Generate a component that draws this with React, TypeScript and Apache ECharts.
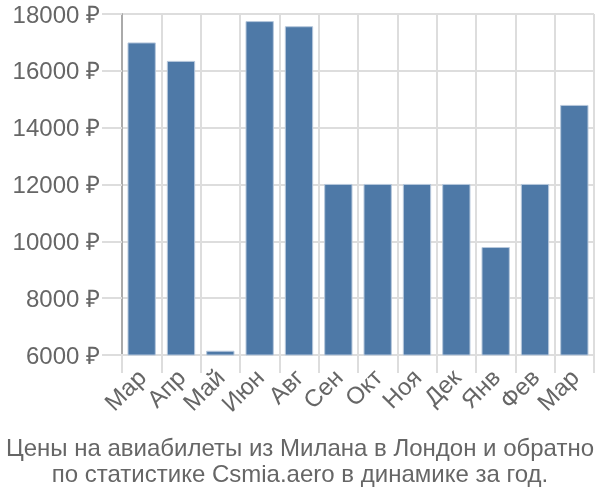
import React, { useEffect, useRef } from "react";
import * as echarts from "echarts";

const months = ["Мар", "Апр", "Май", "Июн", "Авг", "Сен", "Окт", "Ноя", "Дек", "Янв", "Фев", "Мар"];
const prices = [17000, 16350, 6150, 17750, 17570, 12020, 12020, 12020, 12020, 9800, 12020, 14800];
const titleLines = [
  "Цены на авиабилеты из Милана в Лондон и обратно",
  "по статистике Csmia.aero в динамике за год.",
];

export default function App() {
  const ref = useRef<HTMLDivElement>(null);
  useEffect(() => {
    if (!ref.current) return;
    const chart = echarts.init(ref.current, null, { renderer: "svg" });
    const font = "Liberation Sans, Arial, sans-serif";
    chart.setOption({
      animation: false,
      textStyle: { fontFamily: font },
      title: {
        text: titleLines.join("\n"),
        left: "center",
        top: 429,
        textStyle: { fontSize: 24, fontWeight: "normal", color: "#666", lineHeight: 26, fontFamily: font },
      },
      grid: { left: 122, right: 6, top: 14, bottom: 145 },
      xAxis: {
        type: "category",
        data: months,
        axisLine: { show: true, lineStyle: { color: "#ddd", width: 2 } },
        axisTick: { show: true, length: 18, interval: 0, lineStyle: { color: "#ddd", width: 2 } },
        splitLine: { show: true, interval: 0, lineStyle: { color: "#ddd", width: 2 } },
        axisLabel: { rotate: 45, interval: 0, fontSize: 24, color: "#666", margin: 18, fontFamily: font },
      },
      yAxis: {
        type: "value",
        min: 6000,
        max: 18000,
        interval: 2000,
        axisLine: { show: true, lineStyle: { color: "#aaa", width: 2 } },
        axisTick: { show: true, length: 20, lineStyle: { color: "#ddd", width: 2 } },
        splitLine: { show: true, lineStyle: { color: "#ddd", width: 2 } },
        axisLabel: {
          formatter: (v: number) => v + " ₽",
          fontSize: 24,
          color: "#666",
          margin: 22,
          fontFamily: font,
        },
      },
      series: [
        {
          type: "bar",
          data: prices,
          barCategoryGap: "28%",
          itemStyle: { color: "#4e79a7", borderColor: "#b7c8dc", borderWidth: 1 },
        },
      ],
    });
    return () => chart.dispose();
  }, []);
  return <div ref={ref} style={{ position: "fixed", left: 0, top: 0, width: 600, height: 500 }} />;
}
